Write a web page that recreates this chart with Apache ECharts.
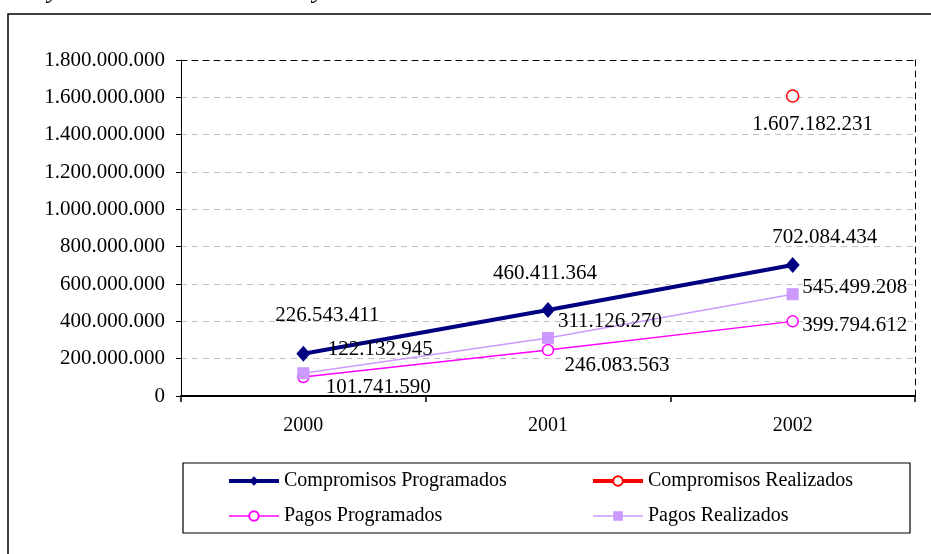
<!DOCTYPE html>
<html>
<head>
<meta charset="utf-8">
<script src="https://cdn.jsdelivr.net/npm/echarts@6/dist/echarts.min.js"></script>
<style>
html,body{margin:0;padding:0;background:#fff;}
#chart{width:931px;height:554px;}
</style>
</head>
<body>
<div id="chart"></div>
<script>
// datos
var categories = ['2000', '2001', '2002'];
var compromisosProgramados = [226543411, 460411364, 702084434];
var compromisosRealizados = [null, null, 1607182231];
var pagosProgramados = [101741590, 246083563, 399794612];
var pagosRealizados = [122132945, 311126270, 545499208];
var yTicks = [0, 200000000, 400000000, 600000000, 800000000, 1000000000, 1200000000, 1400000000, 1600000000, 1800000000];

// desplazamiento de etiquetas (px)
var offCP = [[24, -38], [-3, -37], [32, -27]];
var offCR = [null, null, [20, 28]];
var offPP = [[75, 10], [69, 15], [62, 4]];
var offPR = [[77, -24], [62, -16], [62, -7]];

var FONT = "'Times New Roman', 'Liberation Serif', serif";

function fmt(v) {
    return String(v).replace(/\B(?=(\d{3})+(?!\d))/g, '.');
}

function buildData(vals, offs) {
    return vals.map(function (v, i) {
        if (v === null) return '-';
        return { value: v, label: { offset: offs[i] } };
    });
}

var labelBase = {
    show: true,
    position: 'inside',
    align: 'center',
    verticalAlign: 'middle',
    color: '#000',
    fontFamily: FONT,
    fontSize: 21,
    formatter: function (p) { return fmt(p.value); }
};

var legendText = { fontFamily: FONT, fontSize: 20, color: '#000' };

var myChart = echarts.init(document.getElementById('chart'));
var option = {
    animation: false,
    backgroundColor: '#fff',
    textStyle: { fontFamily: FONT, color: '#000' },
    grid: { left: 181, right: 16, top: 60, bottom: 158, containLabel: false },
    graphic: [
        { type: 'rect', shape: { x: 8, y: 14, width: 960, height: 600 }, style: { fill: 'none', stroke: '#000', lineWidth: 1.5 }, z: -1 },
        { type: 'rect', shape: { x: 183, y: 463, width: 727, height: 70 }, style: { fill: 'none', stroke: '#000', lineWidth: 1.2 } },
        { type: 'text', x: 48, y: -22, style: { text: 'y', font: 'italic 26px ' + FONT, fill: '#000' } },
        { type: 'text', x: 313, y: -22, style: { text: 'y', font: 'italic 26px ' + FONT, fill: '#000' } }
    ],
    legend: [
        {
            data: [
                { name: 'Compromisos Programados', lineStyle: { width: 4 } },
                { name: 'Pagos Programados', lineStyle: { width: 1.5 } }
            ],
            orient: 'vertical', left: 227, top: 471, padding: 0,
            itemWidth: 50, itemHeight: 12, itemGap: 15,
            textStyle: legendText
        },
        {
            data: [
                { name: 'Compromisos Realizados', lineStyle: { width: 4 } },
                { name: 'Pagos Realizados', lineStyle: { width: 1.5 } }
            ],
            orient: 'vertical', left: 591, top: 471, padding: 0,
            itemWidth: 50, itemHeight: 12, itemGap: 15,
            textStyle: legendText
        }
    ],
    xAxis: [
        {
            type: 'category',
            data: categories,
            boundaryGap: true,
            axisLine: { lineStyle: { color: '#000', width: 2 } },
            axisTick: { show: true, length: 6, lineStyle: { color: '#000', width: 1.5 } },
            axisLabel: { color: '#000', fontFamily: FONT, fontSize: 20, margin: 20 },
            splitLine: { show: false }
        },
        {
            type: 'category',
            data: categories,
            position: 'top',
            axisLine: { show: true, onZero: false, lineStyle: { color: '#000', width: 1, type: [6, 5] } },
            axisTick: { show: false },
            axisLabel: { show: false },
            splitLine: { show: false }
        }
    ],
    yAxis: [
        {
            type: 'value',
            min: yTicks[0],
            max: yTicks[yTicks.length - 1],
            interval: yTicks[1] - yTicks[0],
            axisLine: { show: true, lineStyle: { color: '#000', width: 1 } },
            axisTick: { show: true, length: 5, lineStyle: { color: '#000' } },
            axisLabel: { color: '#000', fontFamily: FONT, fontSize: 21, margin: 16, formatter: fmt },
            splitLine: { show: true, showMaxLine: false, lineStyle: { color: '#c0c0c0', type: [6, 5], width: 1 } }
        },
        {
            type: 'value',
            position: 'right',
            min: yTicks[0],
            max: yTicks[yTicks.length - 1],
            interval: yTicks[1] - yTicks[0],
            axisLine: { show: true, onZero: false, lineStyle: { color: '#000', width: 1, type: [6, 5] } },
            axisTick: { show: false },
            axisLabel: { show: false },
            splitLine: { show: false }
        }
    ],
    series: [
        {
            name: 'Compromisos Programados',
            type: 'line',
            data: buildData(compromisosProgramados, offCP),
            symbol: 'diamond',
            symbolSize: [14, 16],
            color: '#000080',
            lineStyle: { color: '#000080', width: 4 },
            itemStyle: { color: '#000080' },
            label: labelBase,
            z: 4
        },
        {
            name: 'Compromisos Realizados',
            type: 'line',
            data: buildData(compromisosRealizados, offCR),
            symbol: 'circle',
            symbolSize: 12,
            showAllSymbol: true,
            color: '#ff0000',
            lineStyle: { color: '#ff0000', width: 4 },
            itemStyle: { color: '#fff', borderColor: '#ff0000', borderWidth: 1.5 },
            label: labelBase,
            z: 4
        },
        {
            name: 'Pagos Programados',
            type: 'line',
            data: buildData(pagosProgramados, offPP),
            symbol: 'circle',
            symbolSize: 11,
            color: '#ff00ff',
            lineStyle: { color: '#ff00ff', width: 1.5 },
            itemStyle: { color: '#fff', borderColor: '#ff00ff', borderWidth: 1.5 },
            label: labelBase,
            z: 3
        },
        {
            name: 'Pagos Realizados',
            type: 'line',
            data: buildData(pagosRealizados, offPR),
            symbol: 'rect',
            symbolSize: 12,
            color: '#cc99ff',
            lineStyle: { color: '#cc99ff', width: 1.5 },
            itemStyle: { color: '#cc99ff' },
            label: labelBase,
            z: 4
        }
    ]
};
myChart.setOption(option);
window.onresize = myChart.resize;
</script>
</body>
</html>
